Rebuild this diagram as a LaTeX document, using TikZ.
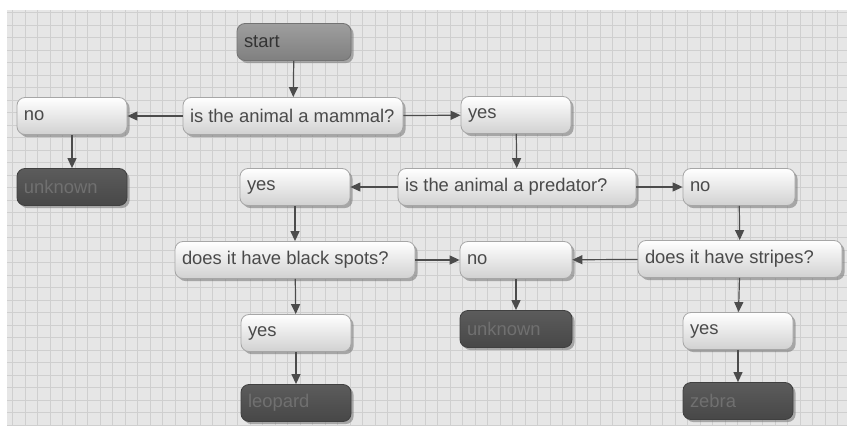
\documentclass[tikz,border=0pt]{standalone}
\usepackage{fontspec}
\setmainfont{Liberation Sans}
\usepackage{xcolor}
\usepackage{tikz}
\usetikzlibrary{arrows.meta,shadows}
\definecolor{paper}{HTML}{E6E6E6}
\definecolor{gridline}{HTML}{CFCFCF}
\definecolor{boxtext}{HTML}{4A4A4A}
\tikzset{
  answernode/.style={rectangle,rounded corners=4pt,draw=black!35,
    top color=white,bottom color=black!18,
    minimum height=18.5pt,inner xsep=3.5pt,inner ysep=1pt,
    text width=#1,align=flush left,text=boxtext,
    font=\fontsize{9.2}{11}\selectfont,
    drop shadow={shadow xshift=1.3pt,shadow yshift=-1.3pt,fill=black!55,opacity=.55}},
  questionnode/.style={answernode=#1},
  resultnode/.style={answernode=#1,draw=black!75,
    top color=black!64,bottom color=black!72,text=black!56},
  startnode/.style={answernode=#1,draw=black!55,
    top color=black!38,bottom color=black!50,text=black!80},
  flowedge/.style={-{Triangle[length=5pt,width=4.5pt]},semithick,black!70}
}

\begin{document}
\begin{tikzpicture}[x=0.5pt,y=-0.5pt]
  \useasboundingbox (0,0) rectangle (852,428);
  \fill[white] (0,0) rectangle (852,428);
  \fill[paper] (7,10) rectangle (847,425);
  \draw[gridline,line width=0.3pt,step=6.25pt] (7,10) grid (847,425);

  \node[startnode=50pt] (start) at (294,42) {start};
  \node[questionnode=103pt] (q1) at (293,116) {is the animal a mammal?};
  \node[answernode=48pt] (n1) at (72,116) {no};
  \node[resultnode=48pt] (r1) at (72,187) {unknown};
  \node[answernode=48pt] (y1) at (516,115) {yes};
  \node[questionnode=112pt] (q2) at (517,187) {is the animal a predator?};
  \node[answernode=48pt] (y2) at (295,187) {yes};
  \node[answernode=49pt] (n2) at (739,187) {no};
  \node[questionnode=113pt] (q3) at (295,260) {does it have black spots?};
  \node[answernode=49pt] (n3) at (516,260) {no};
  \node[questionnode=95pt] (q4) at (740,259) {does it have stripes?};
  \node[resultnode=49pt] (r2) at (516,329) {unknown};
  \node[answernode=48pt] (y3) at (296,333) {yes};
  \node[answernode=48pt] (y4) at (738,331) {yes};
  \node[resultnode=48pt] (r3) at (296,403) {leopard};
  \node[resultnode=48pt] (r4) at (738,401) {zebra};

  \draw[flowedge] (start) -- (q1);
  \draw[flowedge] (q1) -- (n1);
  \draw[flowedge] (q1) -- (y1);
  \draw[flowedge] (n1) -- (r1);
  \draw[flowedge] (y1) -- (q2);
  \draw[flowedge] (q2) -- (y2);
  \draw[flowedge] (q2) -- (n2);
  \draw[flowedge] (y2) -- (q3);
  \draw[flowedge] (n2) -- (q4);
  \draw[flowedge] (q3) -- (n3);
  \draw[flowedge] (q4) -- (n3);
  \draw[flowedge] (n3) -- (r2);
  \draw[flowedge] (q3) -- (y3);
  \draw[flowedge] (y3) -- (r3);
  \draw[flowedge] (q4) -- (y4);
  \draw[flowedge] (y4) -- (r4);
\end{tikzpicture}
\end{document}
